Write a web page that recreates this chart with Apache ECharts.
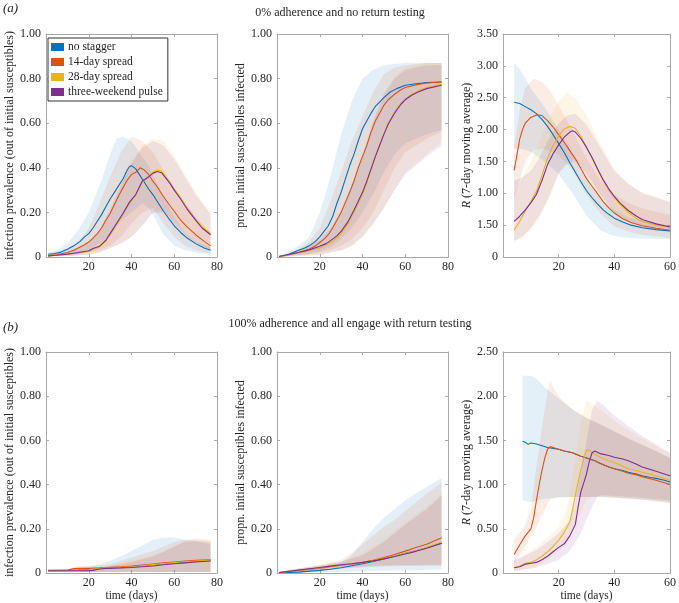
<!DOCTYPE html>
<html><head><meta charset="utf-8">
<script src="https://cdn.jsdelivr.net/npm/echarts@6/dist/echarts.min.js"></script>
<style>html,body{margin:0;padding:0;background:#fff}#c{width:679px;height:603px}</style>
</head><body><div id="c"></div>
<script>
// ---------- names / ticks ----------
const seriesNames = ['no stagger', '14-day spread', '28-day spread', 'three-weekend pulse'];
const propTicks = ['0', '0.20', '0.40', '0.60', '0.80', '1.00'];
const rTopTicks = ['0', '1.50', '1.00', '1.50', '2.00', '2.50', '3.00', '3.50'];
const rBotTicks = ['0', '0.50', '1.00', '1.50', '2.00', '2.50'];
const dayTicks80 = ['', '20', '40', '60', '80'];
const dayTicks60 = ['', '20', '40', '60'];

// ---------- (a) prevalence: lines [day, value] ----------
const aPrevNo = [[1,0.012],[4,0.016],[7,0.022],[10,0.035],[13,0.05],[16,0.07],[18,0.09],[20,0.105],[22,0.13],[24,0.16],[26,0.19],[28,0.225],[30,0.26],[32,0.29],[34,0.32],[36,0.35],[38,0.39],[39,0.405],[40,0.41],[42,0.395],[44,0.365],[46,0.335],[48,0.305],[50,0.28],[52,0.25],[55,0.205],[58,0.165],[60,0.14],[63,0.11],[66,0.085],[70,0.06],[74,0.04],[77,0.03]];
const aPrev14 = [[1,0.005],[5,0.01],[10,0.02],[13,0.03],[16,0.045],[18,0.055],[20,0.067],[22,0.085],[24,0.105],[26,0.13],[28,0.165],[30,0.195],[32,0.235],[34,0.275],[36,0.31],[38,0.345],[40,0.37],[42,0.38],[44,0.40],[46,0.39],[48,0.37],[50,0.34],[52,0.315],[55,0.27],[58,0.23],[60,0.205],[63,0.165],[66,0.135],[70,0.10],[74,0.07],[77,0.05]];
const aPrev28 = [[1,0.005],[5,0.008],[10,0.012],[15,0.018],[20,0.025],[22,0.035],[25,0.045],[28,0.072],[30,0.10],[33,0.145],[36,0.19],[39,0.24],[42,0.28],[45,0.335],[48,0.36],[50,0.38],[52,0.39],[54,0.385],[56,0.36],[58,0.335],[60,0.305],[63,0.265],[66,0.22],[70,0.17],[73,0.135],[77,0.105]];
const aPrevTW = [[1,0.005],[5,0.008],[10,0.013],[15,0.02],[20,0.028],[22,0.038],[25,0.048],[28,0.075],[30,0.105],[33,0.15],[36,0.195],[39,0.245],[42,0.28],[45,0.34],[48,0.36],[50,0.375],[52,0.383],[54,0.378],[56,0.355],[58,0.33],[60,0.30],[63,0.26],[66,0.215],[70,0.165],[73,0.13],[77,0.10]];
// bands [day, low, high]
const aPrevNoBand = [[1,0.005,0.02],[5,0.008,0.03],[10,0.01,0.06],[15,0.015,0.12],[20,0.03,0.2],[25,0.06,0.32],[30,0.1,0.46],[33,0.14,0.53],[36,0.17,0.54],[40,0.2,0.52],[45,0.24,0.45],[48,0.22,0.41],[50,0.19,0.37],[55,0.1,0.27],[60,0.05,0.18],[65,0.03,0.11],[70,0.02,0.07],[77,0.01,0.045]];
const aPrev14Band = [[1,0.002,0.01],[5,0.004,0.02],[10,0.008,0.04],[15,0.012,0.07],[20,0.02,0.13],[25,0.03,0.24],[30,0.05,0.36],[35,0.09,0.47],[40,0.15,0.54],[45,0.2,0.52],[50,0.22,0.47],[55,0.15,0.39],[60,0.09,0.31],[65,0.05,0.24],[70,0.03,0.18],[77,0.015,0.11]];
const aPrev28Band = [[1,0.002,0.01],[10,0.005,0.02],[20,0.01,0.06],[25,0.02,0.12],[30,0.04,0.22],[35,0.06,0.33],[40,0.09,0.43],[45,0.14,0.5],[50,0.2,0.53],[55,0.21,0.52],[60,0.16,0.46],[65,0.11,0.37],[70,0.07,0.29],[77,0.035,0.2]];
const aPrevTWBand = [[1,0.002,0.01],[10,0.005,0.025],[20,0.01,0.065],[25,0.02,0.12],[30,0.04,0.21],[35,0.06,0.32],[40,0.09,0.42],[45,0.14,0.49],[50,0.2,0.52],[55,0.2,0.5],[60,0.15,0.44],[65,0.1,0.36],[70,0.06,0.28],[77,0.03,0.19]];

// ---------- (a) cumulative ----------
const aCumNo = [[1,0.002],[5,0.01],[10,0.03],[13,0.04],[15,0.05],[18,0.07],[20,0.09],[22,0.115],[24,0.14],[26,0.18],[28,0.24],[30,0.29],[32,0.35],[34,0.41],[36,0.46],[38,0.52],[40,0.575],[42,0.61],[44,0.645],[46,0.675],[48,0.695],[50,0.715],[53,0.74],[56,0.755],[60,0.77],[65,0.777],[70,0.782],[77,0.785]];
const aCum14 = [[1,0.002],[5,0.01],[10,0.02],[15,0.035],[18,0.05],[20,0.065],[22,0.08],[24,0.1],[26,0.13],[28,0.165],[30,0.2],[32,0.245],[34,0.29],[36,0.34],[38,0.4],[40,0.45],[42,0.5],[44,0.56],[46,0.61],[48,0.645],[50,0.68],[52,0.705],[55,0.73],[58,0.75],[60,0.76],[65,0.772],[70,0.78],[77,0.785]];
const aCum28 = [[1,0.002],[5,0.008],[10,0.018],[15,0.028],[20,0.04],[23,0.055],[26,0.07],[28,0.085],[30,0.105],[33,0.145],[36,0.2],[38,0.24],[40,0.28],[42,0.33],[44,0.39],[46,0.45],[48,0.5],[50,0.55],[52,0.6],[55,0.65],[58,0.69],[60,0.71],[63,0.73],[66,0.745],[70,0.76],[77,0.775]];
const aCumTW = [[1,0.002],[5,0.01],[10,0.02],[15,0.032],[20,0.048],[23,0.06],[26,0.08],[28,0.095],[30,0.115],[33,0.155],[36,0.21],[38,0.25],[40,0.29],[42,0.34],[44,0.395],[46,0.45],[48,0.5],[50,0.55],[52,0.595],[55,0.645],[58,0.685],[60,0.705],[63,0.725],[66,0.74],[70,0.755],[77,0.77]];
const aCumNoBand = [[1,0,0.005],[5,0.005,0.02],[10,0.01,0.05],[15,0.015,0.09],[20,0.025,0.2],[25,0.045,0.36],[30,0.08,0.55],[35,0.13,0.7],[40,0.2,0.8],[45,0.28,0.84],[50,0.38,0.86],[55,0.46,0.865],[60,0.51,0.87],[70,0.55,0.87],[77,0.57,0.87]];
const aCum14Band = [[1,0,0.004],[5,0.004,0.015],[10,0.008,0.035],[15,0.012,0.07],[20,0.02,0.13],[25,0.03,0.25],[30,0.05,0.38],[35,0.08,0.52],[40,0.13,0.63],[45,0.2,0.74],[50,0.3,0.82],[55,0.4,0.85],[60,0.47,0.86],[70,0.53,0.87],[77,0.56,0.87]];
const aCum28Band = [[1,0,0.003],[10,0.005,0.025],[20,0.01,0.07],[25,0.02,0.12],[30,0.03,0.2],[35,0.05,0.32],[40,0.09,0.45],[45,0.15,0.6],[50,0.22,0.73],[55,0.3,0.81],[60,0.38,0.85],[70,0.46,0.87],[77,0.52,0.87]];
const aCumTWBand = [[1,0,0.003],[10,0.005,0.03],[20,0.01,0.08],[25,0.02,0.13],[30,0.03,0.21],[35,0.05,0.33],[40,0.09,0.46],[45,0.15,0.61],[50,0.22,0.73],[55,0.3,0.8],[60,0.37,0.84],[70,0.45,0.86],[77,0.5,0.86]];

// ---------- (a) R ----------
const aRNo = [[4,2.43],[6,2.41],[8,2.36],[10,2.31],[12,2.25],[14,2.16],[16,2.05],[18,1.92],[20,1.78],[22,1.64],[24,1.48],[26,1.33],[28,1.18],[30,1.04],[32,0.93],[34,0.83],[36,0.74],[38,0.67],[40,0.61],[43,0.55],[46,0.5],[50,0.46],[55,0.43],[60,0.41]];
const aR14 = [[4,1.36],[5,1.6],[6,1.85],[7,2.0],[8,2.1],[10,2.19],[12,2.23],[14,2.22],[16,2.14],[18,2.04],[20,1.92],[22,1.8],[24,1.67],[26,1.54],[28,1.39],[30,1.23],[32,1.11],[34,0.99],[36,0.87],[38,0.77],[40,0.69],[43,0.6],[46,0.54],[50,0.49],[55,0.45],[60,0.42]];
const aR28 = [[4,0.42],[6,0.56],[8,0.72],[10,0.87],[12,1.03],[14,1.28],[16,1.55],[18,1.75],[20,1.9],[22,2.01],[24,2.05],[26,2.02],[28,1.89],[30,1.72],[32,1.55],[34,1.37],[36,1.2],[38,1.05],[40,0.93],[42,0.83],[45,0.7],[48,0.6],[50,0.56],[55,0.5],[60,0.47]];
const aRTW = [[4,0.56],[6,0.64],[8,0.74],[10,0.85],[12,0.98],[14,1.2],[16,1.45],[18,1.62],[20,1.76],[22,1.88],[24,1.96],[25,1.98],[26,1.96],[28,1.86],[30,1.72],[32,1.56],[34,1.38],[36,1.21],[38,1.07],[40,0.95],[42,0.85],[45,0.73],[48,0.64],[50,0.59],[55,0.52],[60,0.47]];
const aRNoBand = [[4,1.7,3.05],[6,1.7,2.95],[8,1.68,2.8],[10,1.65,2.65],[15,1.5,2.35],[20,1.3,2.0],[25,1.0,1.6],[30,0.65,1.22],[35,0.42,0.92],[40,0.33,0.74],[45,0.3,0.62],[50,0.29,0.56],[60,0.28,0.5]];
const aR14Band = [[4,0.9,1.75],[6,1.2,2.3],[8,1.5,2.65],[11,1.68,2.8],[14,1.7,2.75],[17,1.66,2.6],[20,1.6,2.38],[25,1.36,1.98],[30,0.98,1.55],[35,0.68,1.2],[40,0.48,0.98],[45,0.4,0.85],[50,0.35,0.76],[60,0.3,0.66]];
const aR28Band = [[4,0.25,1.0],[7,0.3,1.25],[10,0.42,1.5],[13,0.6,1.8],[16,0.85,2.12],[20,1.3,2.45],[23,1.5,2.57],[26,1.55,2.5],[30,1.32,2.22],[35,0.98,1.78],[40,0.7,1.38],[45,0.55,1.15],[50,0.46,1.02],[60,0.4,0.88]];
const aRTWBand = [[4,0.25,1.2],[7,0.32,1.25],[10,0.45,1.35],[13,0.65,1.55],[16,0.9,1.82],[20,1.32,2.1],[23,1.45,2.22],[26,1.5,2.25],[30,1.3,2.08],[35,0.98,1.72],[40,0.7,1.35],[45,0.56,1.15],[50,0.47,1.0],[60,0.4,0.86]];

// ---------- (b) prevalence ----------
const bPrevNo = [[1,0.012],[10,0.012],[15,0.013],[20,0.016],[25,0.019],[30,0.022],[35,0.025],[40,0.028],[45,0.033],[50,0.038],[55,0.043],[60,0.047],[65,0.05],[70,0.053],[77,0.057]];
const bPrev14 = [[1,0.01],[10,0.012],[13,0.02],[16,0.021],[20,0.021],[25,0.023],[30,0.026],[35,0.028],[40,0.031],[45,0.036],[50,0.041],[55,0.046],[60,0.05],[65,0.054],[70,0.057],[77,0.06]];
const bPrev28 = [[1,0.01],[10,0.01],[15,0.012],[20,0.015],[25,0.02],[30,0.025],[35,0.026],[40,0.028],[45,0.033],[50,0.038],[55,0.043],[60,0.047],[65,0.051],[70,0.054],[77,0.057]];
const bPrevTW = [[1,0.01],[10,0.01],[15,0.01],[20,0.01],[22,0.012],[25,0.018],[30,0.022],[35,0.023],[40,0.025],[45,0.028],[50,0.032],[55,0.037],[60,0.042],[65,0.046],[70,0.05],[77,0.054]];
const bPrevNoBand = [[1,0.005,0.015],[10,0.005,0.017],[20,0.005,0.03],[25,0.005,0.04],[30,0.005,0.055],[35,0.005,0.075],[40,0.005,0.1],[45,0.005,0.125],[50,0.005,0.15],[55,0.005,0.16],[60,0.005,0.162],[65,0.005,0.15],[70,0.005,0.145],[77,0.005,0.14]];
const bPrev14Band = [[1,0.005,0.012],[10,0.005,0.02],[15,0.005,0.03],[20,0.005,0.03],[30,0.005,0.04],[40,0.005,0.07],[45,0.005,0.085],[50,0.005,0.1],[55,0.005,0.12],[60,0.005,0.14],[65,0.005,0.15],[70,0.005,0.155],[77,0.005,0.15]];
const bPrev28Band = [[1,0.005,0.012],[20,0.005,0.02],[30,0.005,0.035],[40,0.005,0.055],[50,0.005,0.08],[55,0.005,0.1],[60,0.005,0.125],[65,0.005,0.145],[70,0.005,0.15],[77,0.005,0.145]];
const bPrevTWBand = [[1,0.005,0.012],[20,0.005,0.015],[30,0.005,0.03],[40,0.005,0.05],[50,0.005,0.075],[55,0.005,0.095],[60,0.005,0.12],[65,0.005,0.14],[70,0.005,0.145],[77,0.005,0.13]];

// ---------- (b) cumulative ----------
const bCumNo = [[1,0.001],[10,0.004],[20,0.012],[25,0.017],[30,0.024],[35,0.033],[40,0.042],[45,0.052],[50,0.064],[55,0.076],[60,0.089],[65,0.101],[70,0.114],[77,0.135]];
const bCum14 = [[1,0.002],[10,0.012],[20,0.022],[25,0.028],[30,0.035],[35,0.041],[40,0.048],[45,0.058],[50,0.07],[55,0.084],[60,0.099],[65,0.115],[70,0.13],[77,0.16]];
const bCum28 = [[1,0.002],[10,0.012],[20,0.024],[25,0.03],[30,0.036],[35,0.042],[40,0.048],[45,0.056],[50,0.066],[55,0.077],[60,0.089],[65,0.101],[70,0.115],[77,0.14]];
const bCumTW = [[1,0.002],[10,0.013],[20,0.025],[25,0.031],[30,0.037],[35,0.042],[40,0.048],[45,0.055],[50,0.064],[55,0.075],[60,0.086],[65,0.098],[70,0.112],[77,0.135]];
const bCumNoBand = [[1,0,0.003],[10,0.001,0.01],[20,0.003,0.025],[30,0.005,0.05],[35,0.006,0.08],[40,0.008,0.14],[45,0.01,0.2],[50,0.01,0.25],[55,0.012,0.29],[60,0.012,0.33],[65,0.013,0.36],[70,0.014,0.39],[77,0.015,0.43]];
const bCum14Band = [[1,0,0.004],[10,0.005,0.02],[20,0.012,0.035],[30,0.02,0.06],[35,0.025,0.09],[40,0.03,0.13],[45,0.033,0.17],[50,0.035,0.21],[55,0.036,0.24],[60,0.036,0.28],[65,0.036,0.32],[70,0.037,0.36],[77,0.038,0.41]];
const bCum28Band = [[1,0,0.004],[10,0.005,0.02],[20,0.012,0.035],[30,0.02,0.05],[40,0.028,0.09],[50,0.032,0.15],[60,0.034,0.23],[70,0.035,0.3],[77,0.035,0.36]];
const bCumTWBand = [[1,0,0.004],[10,0.005,0.02],[20,0.012,0.035],[30,0.02,0.05],[40,0.026,0.08],[50,0.03,0.14],[60,0.032,0.22],[70,0.033,0.29],[77,0.034,0.35]];

// ---------- (b) R ----------
const bRNo = [[7,1.49],[8,1.48],[9,1.455],[10,1.47],[12,1.46],[14,1.44],[16,1.42],[18,1.41],[20,1.4],[22,1.38],[25,1.36],[28,1.32],[30,1.3],[33,1.27],[35,1.24],[38,1.2],[40,1.18],[43,1.16],[45,1.14],[48,1.12],[50,1.1],[53,1.08],[55,1.07],[58,1.05],[60,1.03]];
const bR14 = [[4,0.21],[6,0.32],[8,0.42],[10,0.5],[11,0.62],[12,0.82],[13,1.0],[14,1.16],[15,1.3],[16,1.4],[17,1.43],[18,1.42],[20,1.4],[22,1.38],[25,1.36],[28,1.32],[30,1.3],[33,1.27],[35,1.24],[38,1.2],[40,1.18],[43,1.15],[45,1.13],[48,1.11],[50,1.09],[55,1.05],[60,1.0]];
const bR28 = [[4,0.06],[6,0.08],[8,0.11],[10,0.12],[12,0.15],[14,0.19],[16,0.24],[18,0.3],[20,0.37],[22,0.46],[24,0.58],[25,0.72],[26,0.88],[27,1.03],[28,1.17],[29,1.3],[30,1.39],[31,1.39],[33,1.34],[35,1.31],[38,1.27],[40,1.25],[43,1.21],[45,1.18],[48,1.16],[50,1.14],[55,1.1],[60,1.05]];
const bRTW = [[4,0.06],[6,0.07],[8,0.1],[10,0.11],[12,0.12],[14,0.15],[16,0.19],[18,0.24],[20,0.29],[22,0.33],[24,0.42],[26,0.55],[27,0.75],[28,0.92],[29,1.02],[30,1.12],[31,1.26],[32,1.36],[33,1.38],[35,1.35],[38,1.33],[40,1.31],[43,1.29],[45,1.27],[48,1.23],[50,1.2],[53,1.17],[55,1.15],[58,1.12],[60,1.1]];
const bRNoBand = [[7,0.82,2.23],[10,0.8,2.23],[12,0.82,2.2],[15,0.84,2.1],[20,0.85,1.97],[25,0.86,1.85],[30,0.86,1.75],[35,0.86,1.68],[40,0.85,1.6],[45,0.84,1.52],[50,0.83,1.45],[55,0.81,1.38],[60,0.79,1.3]];
const bR14Band = [[4,0.1,0.37],[6,0.2,0.45],[8,0.3,0.55],[10,0.42,0.72],[12,0.52,1.2],[14,0.65,1.65],[16,0.78,2.05],[17,0.83,2.18],[18,0.85,2.1],[20,0.86,2.0],[25,0.86,1.85],[30,0.86,1.76],[35,0.86,1.68],[40,0.85,1.6],[50,0.83,1.45],[60,0.8,1.3]];
const bR28Band = [[4,0.02,0.12],[8,0.05,0.2],[12,0.08,0.3],[16,0.15,0.4],[20,0.25,0.52],[22,0.3,0.65],[24,0.38,0.9],[26,0.52,1.3],[28,0.68,1.7],[30,0.83,1.95],[32,0.86,1.92],[35,0.87,1.85],[40,0.86,1.72],[50,0.84,1.52],[60,0.8,1.35]];
const bRTWBand = [[4,0.02,0.14],[8,0.04,0.2],[12,0.06,0.26],[16,0.1,0.35],[20,0.15,0.45],[24,0.25,0.6],[26,0.35,0.8],[28,0.45,1.15],[30,0.6,1.5],[32,0.75,1.85],[34,0.87,1.95],[36,0.88,1.9],[40,0.87,1.78],[50,0.85,1.55],[60,0.82,1.36]];

// ---------- styling ----------
const COLORS = ['#0072BD', '#D95319', '#EDB120', '#7E2F8E'];
const FONT = 'Liberation Serif';
const AX = '#a8a8a8';
const TXT = '#262626';

const panels = [
  {grid:{left:46,top:34,width:171,height:223}, xmax:80, xint:20, xt:dayTicks80, ymax:1, yint:0.2, yt:propTicks, yname:'infection prevalence (out of initial susceptibles)', gap:29, xname:'',
   lines:[aPrevNo,aPrev14,aPrev28,aPrevTW], bands:[aPrevNoBand,aPrev14Band,aPrev28Band,aPrevTWBand]},
  {grid:{left:277,top:34,width:171,height:223}, xmax:80, xint:20, xt:dayTicks80, ymax:1, yint:0.2, yt:propTicks, yname:'propn. initial susceptibles infected', gap:29, xname:'',
   lines:[aCumNo,aCum14,aCum28,aCumTW], bands:[aCumNoBand,aCum14Band,aCum28Band,aCumTWBand]},
  {grid:{left:503,top:34,width:170,height:223}, xmax:60, xint:20, xt:dayTicks60, ymax:3.5, yint:0.5, yt:rTopTicks, yname:'{i|R} (7-day moving average)', gap:25, xname:'',
   lines:[aRNo,aR14,aR28,aRTW], bands:[aRNoBand,aR14Band,aR28Band,aRTWBand]},
  {grid:{left:46,top:352,width:171,height:221}, xmax:80, xint:20, xt:dayTicks80, ymax:1, yint:0.2, yt:propTicks, yname:'infection prevalence (out of initial susceptibles)', gap:29, xname:'time (days)',
   lines:[bPrevNo,bPrev14,bPrev28,bPrevTW], bands:[bPrevNoBand,bPrev14Band,bPrev28Band,bPrevTWBand]},
  {grid:{left:277,top:352,width:171,height:221}, xmax:80, xint:20, xt:dayTicks80, ymax:1, yint:0.2, yt:propTicks, yname:'propn. initial susceptibles infected', gap:29, xname:'time (days)',
   lines:[bCumNo,bCum14,bCum28,bCumTW], bands:[bCumNoBand,bCum14Band,bCum28Band,bCumTWBand]},
  {grid:{left:503,top:352,width:170,height:221}, xmax:60, xint:20, xt:dayTicks60, ymax:2.5, yint:0.5, yt:rBotTicks, yname:'{i|R} (7-day moving average)', gap:25, xname:'time (days)',
   lines:[bRNo,bR14,bR28,bRTW], bands:[bRNoBand,bR14Band,bR28Band,bRTWBand]}
];

const grids = [], xAxes = [], yAxes = [], series = [];
const tickStyle = {show:true, inside:true, length:3, lineStyle:{color:AX, width:1}};
const lineStyleAx = {show:true, onZero:false, lineStyle:{color:AX, width:1}};

panels.forEach((p, i) => {
  grids.push(Object.assign({containLabel:false}, p.grid));
  const xi = xAxes.length, yi = yAxes.length;
  xAxes.push({type:'value', gridIndex:i, min:0, max:p.xmax, interval:p.xint, position:'bottom',
    axisLine:lineStyleAx, axisTick:tickStyle, splitLine:{show:false},
    axisLabel:{color:TXT, fontFamily:FONT, fontSize:12, margin:4, formatter:v => p.xt[Math.round(v / p.xint)]},
    name:p.xname, nameLocation:'middle', nameGap:17, nameTextStyle:{color:TXT, fontFamily:FONT, fontSize:11.5}});
  xAxes.push({type:'value', gridIndex:i, min:0, max:p.xmax, interval:p.xint, position:'top',
    axisLine:lineStyleAx, axisTick:tickStyle, splitLine:{show:false}, axisLabel:{show:false}});
  yAxes.push({type:'value', gridIndex:i, min:0, max:p.ymax, interval:p.yint, position:'left',
    axisLine:lineStyleAx, axisTick:tickStyle, splitLine:{show:false},
    axisLabel:{color:TXT, fontFamily:FONT, fontSize:12, margin:5, formatter:v => p.yt[Math.round(v / p.yint)]},
    name:p.yname, nameLocation:'middle', nameRotate:90, nameGap:p.gap,
    nameTextStyle:{color:TXT, fontFamily:FONT, fontSize:12, rich:{i:{fontStyle:'italic', fontFamily:FONT, fontSize:12, color:TXT}}}});
  yAxes.push({type:'value', gridIndex:i, min:0, max:p.ymax, interval:p.yint, position:'right',
    axisLine:lineStyleAx, axisTick:tickStyle, splitLine:{show:false}, axisLabel:{show:false}});

  p.bands.forEach((rows, k) => {
    series.push({type:'custom', xAxisIndex:xi, yAxisIndex:yi, silent:true, z:1,
      data:rows, encode:{x:0, y:[1,2]},
      renderItem:function (params, api) {
        if (params.dataIndex !== 0) return null;
        const up = rows.map(r => api.coord([r[0], r[2]]));
        const lo = rows.map(r => api.coord([r[0], r[1]])).reverse();
        return {type:'polygon', shape:{points:up.concat(lo)}, style:{fill:COLORS[k], opacity:0.11}};
      }});
  });
  p.lines.forEach((d, k) => {
    series.push({type:'line', name:seriesNames[k], xAxisIndex:xi, yAxisIndex:yi, data:d, z:3,
      showSymbol:false, symbol:'none', color:COLORS[k], lineStyle:{color:COLORS[k], width:1.1}});
  });
});

const chart = echarts.init(document.getElementById('c'), null, {renderer:'canvas'});
chart.setOption({
  animation:false,
  backgroundColor:'#fff',
  title:[
    {text:'(a)', left:3, top:2, padding:0, textStyle:{fontFamily:FONT, fontStyle:'italic', fontWeight:'normal', fontSize:13, color:TXT}},
    {text:'0% adherence and no return testing', left:340, top:7, padding:0, textAlign:'center', textStyle:{fontFamily:FONT, fontWeight:'normal', fontSize:12, color:TXT}},
    {text:'(b)', left:3, top:321, padding:0, textStyle:{fontFamily:FONT, fontStyle:'italic', fontWeight:'normal', fontSize:13, color:TXT}},
    {text:'100% adherence and all engage with return testing', left:350, top:318, padding:0, textAlign:'center', textStyle:{fontFamily:FONT, fontWeight:'normal', fontSize:12, color:TXT}}
  ],
  legend:{data:seriesNames, orient:'vertical', left:48, top:38, icon:'rect', itemWidth:13, itemHeight:8, itemGap:3,
    padding:[3,5,3,3], borderColor:'#333', borderWidth:1, backgroundColor:'#fff', selectedMode:false,
    textStyle:{fontFamily:FONT, fontSize:11.5, color:TXT, lineHeight:11, padding:[0,0,0,-1]}},
  grid:grids, xAxis:xAxes, yAxis:yAxes, series:series
});
</script></body></html>
